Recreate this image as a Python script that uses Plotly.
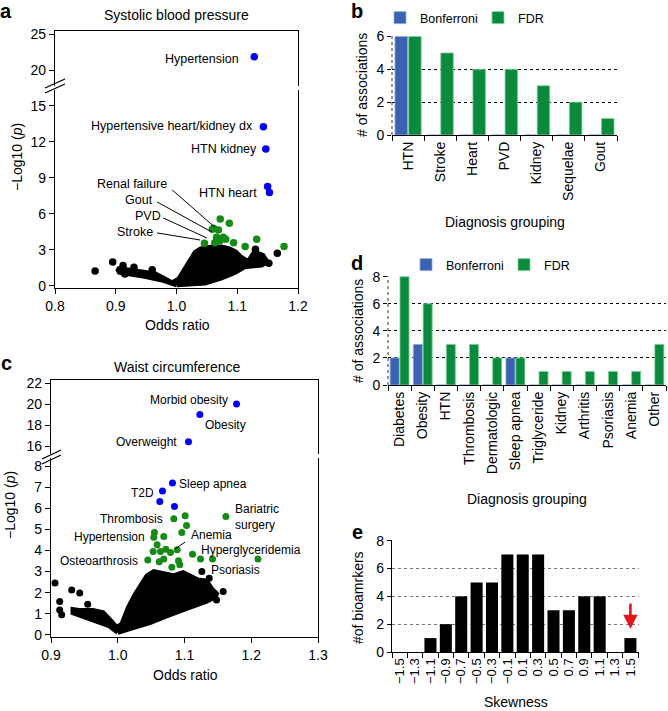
import plotly.graph_objects as go

W, H = 668, 711
FONT = "Liberation Sans, Arial, Helvetica, sans-serif"
PT_BLUE = "#0000F0"
PT_GREEN = "#158A15"
BAR_BLUE = "#3A62B0"
BAR_GREEN = "#0B8A3E"

# ---------------- data: panel a (systolic blood pressure) ----------------
a_cloud_or = [1.0, 0.976, 0.948, 0.926, 0.906, 0.903, 0.926, 0.948, 0.965, 0.98, 0.993,
              1.004, 1.015, 1.024, 1.031, 1.04, 1.058, 1.074, 1.087, 1.097, 1.106, 1.118, 1.128,
              1.142, 1.149, 1.14, 1.128, 1.112, 1.095, 1.073, 1.047, 1.02, 1.0]
a_cloud_p = [0.1, 0.5, 0.8, 1.0, 1.15, 1.45, 1.3, 1.15, 1.0, 0.6, 0.25,
             0.6, 1.5, 2.2, 2.8, 3.1, 3.25, 3.25, 3.1, 2.85, 2.4, 2.0, 2.8,
             2.55, 2.0, 1.75, 1.65, 1.6, 1.1, 0.65, 0.25, 0.15, 0.1]
a_black_or = [0.866, 0.895, 0.912, 0.93, 1.166, 1.152, 1.13, 0.915, 0.96]
a_black_p = [1.25, 2.0, 1.7, 1.55, 2.72, 1.9, 3.05, 1.0, 1.35]
a_fdr_or = [1.072, 1.087, 1.059, 1.069, 1.066, 1.077, 1.081, 1.072, 1.046, 1.094, 1.113, 1.132, 1.177, 1.063, 1.061]
a_fdr_p = [5.58, 5.22, 4.72, 4.67, 4.06, 4.06, 3.89, 3.78, 3.56, 3.61, 3.28, 3.89, 3.28, 3.61, 4.8]
a_bonf_or = [1.128, 1.143, 1.147, 1.150, 1.153]
a_bonf_p = [21.85, 13.27, 11.42, 8.28, 7.78]
a_labels = ["Hypertension", "Hypertensive heart/kidney dx", "HTN kidney", "HTN heart",
            "Renal failure", "Gout", "PVD", "Stroke"]

# ---------------- data: panel b ----------------
b_groups = ["HTN", "Stroke", "Heart", "PVD", "Kidney", "Sequelae", "Gout"]
b_bonf = [6, 0, 0, 0, 0, 0, 0]
b_fdr = [6, 5, 4, 4, 3, 2, 1]

# ---------------- data: panel c (waist circumference) ----------------
c_cloud_or = [1.0, 0.988, 0.968, 0.948, 0.933, 0.933, 0.945, 0.963, 0.978, 0.99, 0.998,
              1.006, 1.016, 1.026, 1.034, 1.044, 1.054, 1.068, 1.083, 1.098, 1.108, 1.12, 1.133,
              1.14, 1.148, 1.146, 1.133, 1.118, 1.098, 1.073, 1.048, 1.023, 1.0]
c_cloud_p = [0.12, 0.42, 0.65, 0.9, 1.05, 1.2, 1.15, 1.15, 1.05, 0.65, 0.35,
             0.5, 1.3, 1.9, 2.35, 2.8, 3.0, 2.88, 2.8, 2.95, 2.8, 2.6, 2.55,
             2.2, 1.95, 1.8, 1.6, 1.45, 1.2, 0.9, 0.58, 0.35, 0.12]
c_black_or = [0.906, 0.913, 0.913, 0.931, 0.943, 0.916, 0.955, 1.137, 1.158, 1.148, 1.126]
c_black_p = [2.46, 1.58, 1.18, 2.13, 1.99, 0.95, 1.45, 2.68, 2.05, 1.65, 3.0]
c_fdr_or = [1.162, 1.084, 1.101, 1.103, 1.096, 1.055, 1.054, 1.069, 1.059, 1.053, 1.064, 1.072,
            1.079, 1.089, 1.112, 1.124, 1.142, 1.210, 1.045, 1.062, 1.069, 1.091, 1.093, 1.081]
c_fdr_p = [5.61, 5.50, 5.65, 5.18, 4.85, 4.85, 4.63, 4.66, 4.27, 3.95, 3.95, 4.06,
           3.90, 4.03, 3.82, 3.60, 3.59, 3.59, 3.55, 3.47, 3.59, 3.51, 3.32, 3.21]
c_bonf_or = [1.178, 1.123, 1.106, 1.082, 1.067, 1.063, 1.085]
c_bonf_p = [20.0, 19.0, 16.4, 7.19, 6.82, 6.32, 6.08]
c_labels = ["Morbid obesity", "Obesity", "Overweight", "Sleep apnea", "T2D", "Thrombosis",
            "Bariatric<br>surgery", "Hypertension", "Anemia", "Hyperglyceridemia",
            "Osteoarthrosis", "Psoriasis"]

# ---------------- data: panel d ----------------
d_groups = ["Diabetes", "Obesity", "HTN", "Thrombosis", "Dermatologic", "Sleep apnea",
            "Triglyceride", "Kidney", "Arthritis", "Psoriasis", "Anemia", "Other"]
d_bonf = [2, 3, 0, 0, 0, 2, 0, 0, 0, 0, 0, 0]
d_fdr = [8, 6, 3, 3, 2, 2, 1, 1, 1, 1, 1, 3]

# ---------------- data: panel e ----------------
e_bins = ["\u22121.5", "\u22121.3", "\u22121.1", "\u22120.9", "\u22120.7", "\u22120.5", "\u22120.3",
          "\u22120.1", "0.1", "0.3", "0.5", "0.7", "0.9", "1.1", "1.3", "1.5"]
e_counts = [0, 0, 1, 2, 4, 5, 5, 7, 7, 7, 3, 3, 4, 4, 0, 1]
e_flagged = "1.5"

A_BREAK = 17.0
C_BREAK = 12.0


def X(px):
    return px / W


def Y(py):
    return 1 - py / H


def split(xs, ys, brk):
    lo = [(x, y) for x, y in zip(xs, ys) if y < brk]
    hi = [(x, y) for x, y in zip(xs, ys) if y >= brk]
    return ([p[0] for p in lo], [p[1] for p in lo]), ([p[0] for p in hi], [p[1] for p in hi])


fig = go.Figure()


def cloud(xs, ys, xa, ya):
    fig.add_trace(go.Scatter(x=xs, y=ys, mode="lines", fill="toself", fillcolor="black",
                             line=dict(color="black", width=5), xaxis=xa, yaxis=ya,
                             hoverinfo="skip", showlegend=False))


def pts(xs, ys, color, xa, ya, size=7.5):
    fig.add_trace(go.Scatter(x=xs, y=ys, mode="markers", marker=dict(color=color, size=size),
                             xaxis=xa, yaxis=ya, showlegend=False))


# panel a
cloud(a_cloud_or, a_cloud_p, "x", "y")
pts(a_black_or, a_black_p, "black", "x", "y")
pts(a_fdr_or, a_fdr_p, PT_GREEN, "x", "y")
(lo, hi) = split(a_bonf_or, a_bonf_p, A_BREAK)
pts(lo[0], lo[1], PT_BLUE, "x", "y")
pts(hi[0], hi[1], PT_BLUE, "x2", "y2")

# panel c
cloud(c_cloud_or, c_cloud_p, "x4", "y4")
pts(c_black_or, c_black_p, "black", "x4", "y4", 7)
pts(c_fdr_or, c_fdr_p, PT_GREEN, "x4", "y4", 7)
(lo, hi) = split(c_bonf_or, c_bonf_p, C_BREAK)
pts(lo[0], lo[1], PT_BLUE, "x4", "y4", 7)
pts(hi[0], hi[1], PT_BLUE, "x5", "y5", 7)

# panel b
fig.add_trace(go.Bar(x=b_groups, y=b_bonf, name="Bonferroni", marker=dict(color=BAR_BLUE, line=dict(color="#8FA8DA", width=0.8)),
                     xaxis="x3", yaxis="y3", legend="legend"))
fig.add_trace(go.Bar(x=b_groups, y=b_fdr, name="FDR", marker=dict(color=BAR_GREEN, line=dict(color="#7FD39A", width=0.8)),
                     xaxis="x3", yaxis="y3", legend="legend"))
# panel d
fig.add_trace(go.Bar(x=d_groups, y=d_bonf, name="Bonferroni", marker=dict(color=BAR_BLUE, line=dict(color="#8FA8DA", width=0.8)),
                     xaxis="x6", yaxis="y6", legend="legend2"))
fig.add_trace(go.Bar(x=d_groups, y=d_fdr, name="FDR", marker=dict(color=BAR_GREEN, line=dict(color="#7FD39A", width=0.8)),
                     xaxis="x6", yaxis="y6", legend="legend2"))
# panel e
fig.add_trace(go.Bar(x=e_bins, y=e_counts, marker=dict(color="black"), xaxis="x7", yaxis="y7",
                     showlegend=False))

TF = dict(size=14, family=FONT, color="black")
scat = dict(showline=True, linecolor="black", linewidth=1.3, ticks="outside", ticklen=5,
            tickwidth=1.2, tickcolor="black", showgrid=False, zeroline=False, tickfont=TF,
            automargin=False)
topx = dict(showline=True, linecolor="black", linewidth=1.3, ticks="", showticklabels=False,
            showgrid=False, zeroline=False, side="top", automargin=False)
barx = dict(type="category", tickson="boundaries", ticks="outside", ticklen=5, tickwidth=1.2,
            tickcolor="black", showline=True, linecolor="black", linewidth=1.3, tickangle=-90,
            tickfont=TF, showgrid=False, zeroline=False, automargin=False)
bary = dict(showgrid=True, gridcolor="black", griddash="dot", gridwidth=1, zeroline=False,
            ticks="outside", ticklen=4, tickcolor="black", showline=False, tickfont=TF,
            automargin=False)

fig.update_layout(
    template="none",
    width=W, height=H, margin=dict(l=0, r=0, t=0, b=0, pad=0), autosize=False,
    paper_bgcolor="white", plot_bgcolor="white",
    font=dict(family=FONT, color="black", size=14),
    barmode="group", bargap=0.15, bargroupgap=0.08,
    xaxis=dict(domain=[X(55), X(298)], range=[0.8, 1.2], tickvals=[0.8, 0.9, 1.0, 1.1, 1.2],
               tickformat=".1f", anchor="y", **scat),
    yaxis=dict(domain=[Y(288), Y(90)], range=[-0.17, 16.33], tickvals=[0, 3, 6, 9, 12, 15],
               anchor="x", mirror=True, **scat),
    xaxis2=dict(domain=[X(55), X(298)], range=[0.8, 1.2], anchor="y2", **topx),
    yaxis2=dict(domain=[Y(86), Y(31)], range=[17.78, 25.42], tickvals=[20, 25], anchor="x2",
                mirror=True, **scat),
    xaxis3=dict(domain=[X(392), X(617)], anchor="y3", **barx),
    yaxis3=dict(domain=[Y(135), Y(36)], range=[0, 6.03], tickvals=[0, 2, 4, 6], anchor="x3", **bary),
    xaxis4=dict(domain=[X(51), X(318)], range=[0.9, 1.3], tickvals=[0.9, 1.0, 1.1, 1.2, 1.3],
                tickformat=".1f", anchor="y4", **scat),
    yaxis4=dict(domain=[Y(637), Y(458)], range=[-0.1, 8.38], tickvals=list(range(0, 9)),
                anchor="x4", mirror=True, **scat),
    xaxis5=dict(domain=[X(51), X(318)], range=[0.9, 1.3], anchor="y5", **topx),
    yaxis5=dict(domain=[Y(454), Y(380)], range=[15.24, 22.3], tickvals=[16, 18, 20, 22],
                anchor="x5", mirror=True, **scat),
    xaxis6=dict(domain=[X(388), X(666)], anchor="y6", **barx),
    yaxis6=dict(domain=[Y(385), Y(276)], range=[0, 8.05], tickvals=[0, 2, 4, 6, 8], anchor="x6", **bary),
    xaxis7=dict(domain=[X(392), X(639)], anchor="y7", tickmode="array", tickvals=e_bins, ticktext=e_bins,
                **dict(barx, tickfont=dict(size=13, family=FONT, color="black"))),
    yaxis7=dict(domain=[Y(652), Y(540)], range=[0, 8.05], tickvals=[0, 2, 4, 6, 8], anchor="x7",
                **dict(bary, gridcolor="#777777", showline=True, linecolor="black", linewidth=1.3)),
    legend=dict(orientation="h", x=X(380), y=Y(18), xanchor="left", yanchor="middle",
                font=dict(size=12.5, family=FONT), bgcolor="rgba(0,0,0,0)", entrywidth=53,
                entrywidthmode="pixels", traceorder="normal"),
    legend2=dict(orientation="h", x=X(406), y=Y(265), xanchor="left", yanchor="middle",
                 font=dict(size=12.5, family=FONT), bgcolor="rgba(0,0,0,0)", entrywidth=53,
                 entrywidthmode="pixels", traceorder="normal"),
)

ann = []


def text(t, x, y, size=14, angle=0, bold=False, xanchor="center", xref="paper", yref="paper", align="center"):
    ann.append(dict(text=("<b>%s</b>" % t) if bold else t, x=x, y=y, xref=xref, yref=yref,
                    showarrow=False, textangle=angle, xanchor=xanchor, yanchor="middle", align=align,
                    font=dict(size=size, family=FONT, color="black")))


# panel letters and titles
text("a", X(6), Y(11), 20, bold=True)
text("b", X(357), Y(11), 20, bold=True)
text("c", X(6), Y(363), 20, bold=True)
text("d", X(357), Y(263), 20, bold=True)
text("e", X(357), Y(532), 20, bold=True)
text("Systolic blood pressure", X(176), Y(15))
text("Waist circumference", X(177), Y(367))
text("Odds ratio", X(177), Y(325))
text("Odds ratio", X(185), Y(675))
text("\u2212Log10 (<i>p</i>)", X(17), Y(157), angle=-90)
text("\u2212Log10 (<i>p</i>)", X(10), Y(505), angle=-90)
text("# of associations", X(362), Y(85), angle=-90)
text("# of associations", X(358), Y(331), angle=-90)
text("#of bioamrkers", X(358), Y(597), angle=-90)
text("Diagnosis grouping", X(505), Y(222))
text("Diagnosis grouping", X(527), Y(499))
text("Skewness", X(516), Y(702))

# point labels panel a
a_pos = [(1.106, 21.53, "right", "x2", "y2"), (1.129, 13.33, "right", "x", "y"),
         (1.136, 11.42, "right", "x", "y"), (1.136, 7.75, "right", "x", "y"),
         (0.988, 8.5, "right", "x", "y"), (0.965, 7.17, "right", "x", "y"),
         (0.978, 5.83, "right", "x", "y"), (0.965, 4.5, "right", "x", "y")]
for lab, (x, y, xa, xr, yr) in zip(a_labels, a_pos):
    text(lab, x, y, 12.5, xanchor=xa, xref=xr, yref=yr)

c_pos = [(1.168, 20.38, "right", "x5", "y5"), (1.128, 18.0, "left", "x5", "y5"),
         (1.092, 16.38, "right", "x5", "y5"), (1.089, 7.16, "left", "x4", "y4"),
         (1.057, 6.73, "right", "x4", "y4"), (1.071, 5.50, "right", "x4", "y4"),
         (1.173, 5.59, "left", "x4", "y4"), (1.044, 4.64, "right", "x4", "y4"),
         (1.107, 4.72, "left", "x4", "y4"), (1.122, 4.0, "left", "x4", "y4"),
         (1.033, 3.51, "right", "x4", "y4"), (1.137, 3.06, "left", "x4", "y4")]
for lab, (x, y, xa, xr, yr) in zip(c_labels, c_pos):
    text(lab, x, y, 12, xanchor=xa, xref=xr, yref=yr, align="left")

# red arrow in e (category index of the flagged bin)
flag_i = e_bins.index(e_flagged)
ann.append(dict(x=flag_i, y=e_counts[flag_i] + 0.65, xref="x7", yref="y7", ax=0, ay=-27,
                showarrow=True, arrowhead=2, arrowsize=1.1, arrowwidth=2.6, arrowcolor="#E8141B", text=""))

shapes = []
# leader lines
for (x0, y0, x1, y1) in [(0.993, 8.0, 1.063, 4.9), (0.968, 7.0, 1.058, 4.5),
                         (0.978, 5.67, 1.05, 4.0), (0.968, 4.42, 1.039, 3.83)]:
    shapes.append(dict(type="line", x0=x0, y0=y0, x1=x1, y1=y1, xref="x", yref="y",
                       line=dict(color="black", width=1)))
shapes.append(dict(type="line", x0=1.101, y0=4.4, x1=1.086, y1=4.08, xref="x4", yref="y4",
                   line=dict(color="black", width=1)))
# axis break marks
for (x0, y0, x1, y1) in [(45, 93, 65, 84), (45, 88, 65, 79), (42, 464, 61, 455), (42, 459, 61, 450)]:
    shapes.append(dict(type="line", x0=X(x0), y0=Y(y0), x1=X(x1), y1=Y(y1), xref="paper", yref="paper",
                       line=dict(color="black", width=1.3)))
# dotted left axis lines for b and d
for xa, ya in [("x3", "y3"), ("x6", "y6")]:
    shapes.append(dict(type="line", x0=0, x1=0, y0=0, y1=1, xref=xa + " domain", yref=ya + " domain",
                       line=dict(color="#555555", width=1.2, dash="dot")))

fig.update_layout(annotations=ann, shapes=shapes)
fig.write_html("out.html", config={"displayModeBar": False},
               post_script="document.body.style.margin='0px';")
